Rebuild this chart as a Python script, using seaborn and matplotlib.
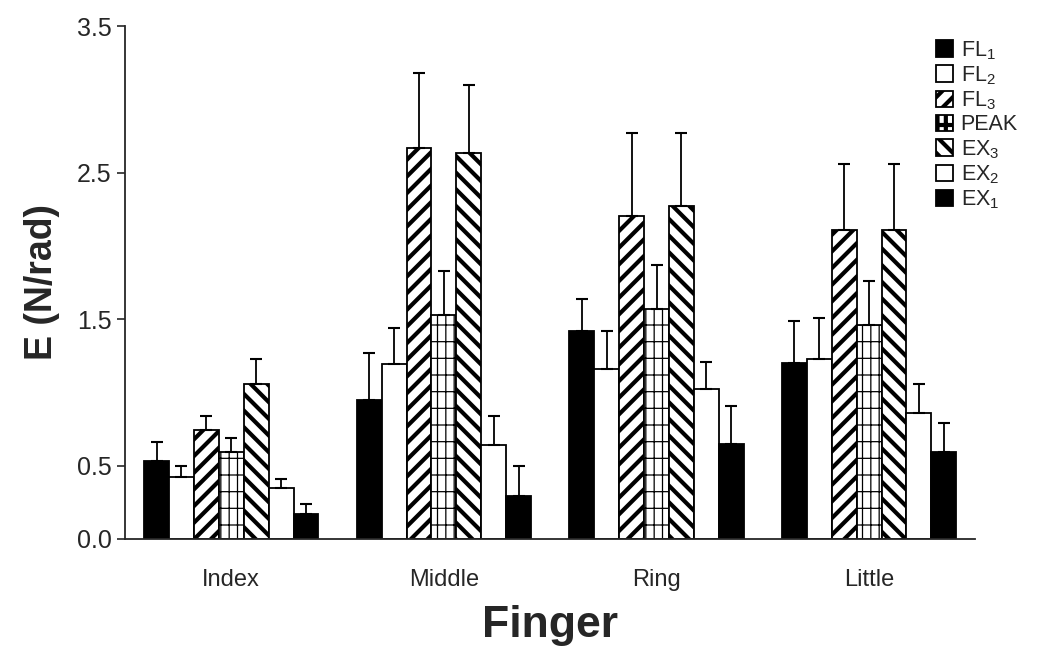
import matplotlib
matplotlib.use('Agg')
import matplotlib.pyplot as plt
import seaborn as sns
import pandas as pd

# 데이터
fingers = ['Index', 'Middle', 'Ring', 'Little']
conditions = ['FL1', 'FL2', 'FL3', 'PEAK', 'EX3', 'EX2', 'EX1']
legend_labels = ['FL$_1$', 'FL$_2$', 'FL$_3$', 'PEAK', 'EX$_3$', 'EX$_2$', 'EX$_1$']

fl1 = [0.53, 0.95, 1.42, 1.20]
fl2 = [0.42, 1.19, 1.16, 1.23]
fl3 = [0.74, 2.67, 2.20, 2.11]
peak = [0.59, 1.53, 1.57, 1.46]
ex3 = [1.06, 2.63, 2.27, 2.11]
ex2 = [0.35, 0.64, 1.02, 0.86]
ex1 = [0.17, 0.29, 0.65, 0.59]

fl1_err = [0.13, 0.32, 0.22, 0.29]
fl2_err = [0.08, 0.25, 0.26, 0.28]
fl3_err = [0.10, 0.51, 0.57, 0.45]
peak_err = [0.10, 0.30, 0.30, 0.30]
ex3_err = [0.17, 0.47, 0.50, 0.45]
ex2_err = [0.06, 0.20, 0.19, 0.20]
ex1_err = [0.07, 0.21, 0.26, 0.20]

means = [fl1, fl2, fl3, peak, ex3, ex2, ex1]
errors = [fl1_err, fl2_err, fl3_err, peak_err, ex3_err, ex2_err, ex1_err]

rows = []
for cond, vals in zip(conditions, means):
    for f, v in zip(fingers, vals):
        rows.append({'finger': f, 'condition': cond, 'E': v})
df = pd.DataFrame(rows)

# 스타일
sns.set_style('ticks')
plt.rcParams['font.family'] = ['Liberation Sans', 'DejaVu Sans']
plt.rcParams['mathtext.default'] = 'regular'
plt.rcParams['hatch.linewidth'] = 3.0

facecolors = ['black', 'white', 'white', 'white', 'white', 'white', 'black']
hatches = ['', '', '//', '|+', '\\\\', '', '']

fig = plt.figure(figsize=(10.5, 6.5), dpi=100)
ax = fig.add_axes([0.119, 0.171, 0.81, 0.789])

sns.barplot(data=df, x='finger', y='E', hue='condition',
            order=fingers, hue_order=conditions,
            palette=facecolors, edgecolor='black', linewidth=1.3,
            width=0.82, errorbar=None, legend=False, ax=ax)

for cont, hatch, errs in zip(ax.containers, hatches, errors):
    xs, ys = [], []
    for p in cont.patches:
        p.set_hatch(hatch)
        if hasattr(p, 'set_hatch_linewidth'):
            p.set_hatch_linewidth(0.9 if hatch == '|+' else 3.0)
        xs.append(p.get_x() + p.get_width() / 2)
        ys.append(p.get_height())
    ax.errorbar(xs, ys, yerr=[[0] * len(errs), errs], fmt='none',
                ecolor='black', elinewidth=1.3, capsize=4.5, capthick=1.5,
                zorder=1)

ax.set_ylim(0, 3.5)
ax.set_xlim(-0.5, 3.5)
ax.set_yticks([0.0, 0.5, 1.5, 2.5, 3.5])
ax.set_yticklabels(['0.0', '0.5', '1.5', '2.5', '3.5'])
ax.tick_params(axis='y', labelsize=18, length=6, width=1.2, direction='out')
ax.tick_params(axis='x', labelsize=17, length=0, pad=22)
sns.despine(ax=ax)
for s in ['left', 'bottom']:
    ax.spines[s].set_linewidth(1.3)

ax.set_xlabel('Finger', fontsize=32, fontweight='bold', labelpad=10)
ax.set_ylabel('E (N/rad)', fontsize=27, fontweight='bold', labelpad=12)

ax.legend(handles=list(ax.containers), labels=legend_labels,
          loc='upper right', bbox_to_anchor=(1.065, 1.0), frameon=False,
          fontsize=15.5, handlelength=0.8, handleheight=0.8,
          handletextpad=0.35, labelspacing=0.12, borderaxespad=0.2)

plt.savefig('out.png', dpi=100)
